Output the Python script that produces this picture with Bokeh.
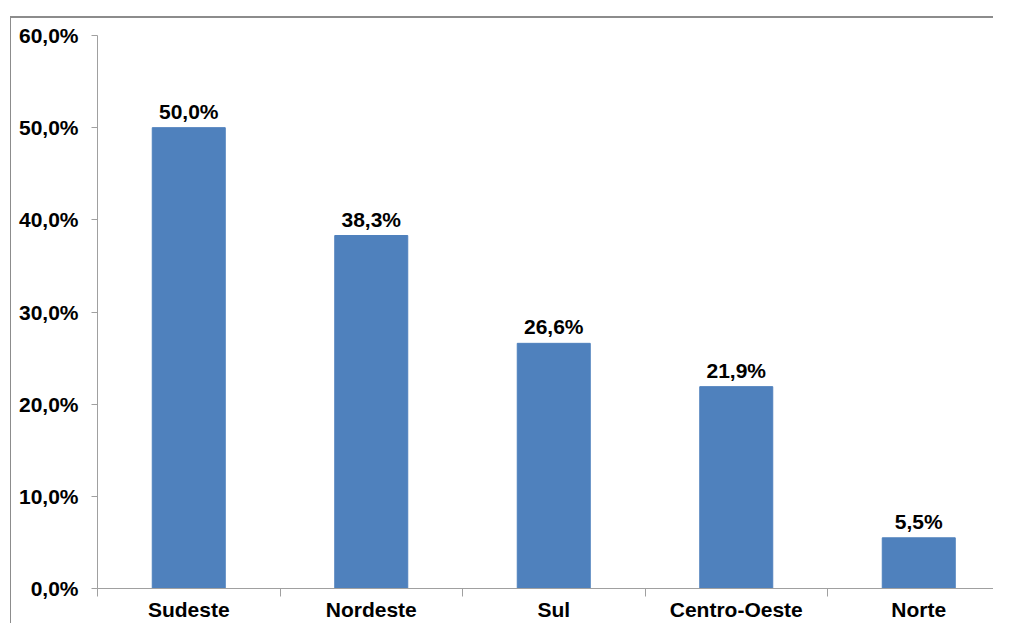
from bokeh.plotting import figure
from bokeh.models import Range1d, FixedTicker, ColumnDataSource
from bokeh.core.properties import value
from bokeh.embed import file_html
from bokeh.resources import INLINE

categories = ["Sudeste", "Nordeste", "Sul", "Centro-Oeste", "Norte"]
values = [50.0, 38.3, 26.6, 21.9, 5.5]
y_ticks = [0, 10, 20, 30, 40, 50, 60]

def pct(v):
    return f"{v:.1f}".replace(".", ",") + "%"

FONT = "Liberation Sans"
FS = "21px"

xs = [i + 0.5 for i in range(len(categories))]
src = ColumnDataSource(dict(x=xs, top=values, cat=categories,
                            label=[pct(v) for v in values]))

W, H = 993, 623
LEFT, TOP, BOTTOM = 97, 35, 29

p = figure(width=W, height=H, output_backend="svg", toolbar_location=None,
           x_range=Range1d(0, (W - LEFT) / 182.5), y_range=Range1d(0, 60),
           min_border_left=LEFT, min_border_right=0, min_border_top=TOP,
           min_border_bottom=BOTTOM, outline_line_color=None,
           background_fill_color="white", border_fill_color=None)

# outer chart-area border (top and left edges visible), drawn by CSS behind the canvas
p.styles = {
    "background": ("linear-gradient(#8c8c8c, #8c8c8c) 10px 16px / 100% 2px no-repeat, "
                   "linear-gradient(#8c8c8c, #8c8c8c) 10px 16px / 1px 100% no-repeat, "
                   "white"),
}

p.vbar(x="x", top="top", width=0.4, bottom=0, source=src,
       fill_color="#4F81BD", line_color="#4F81BD")
p.text(x="x", y="top", text="label", source=src, text_align="center",
       text_baseline="bottom", y_offset=-5, text_font=value(FONT),
       text_font_size=FS, text_font_style="bold", text_color="#000000")

p.xgrid.visible = False
p.ygrid.visible = False

# y axis
ya = p.yaxis[0]
ya.ticker = FixedTicker(ticks=y_ticks, minor_ticks=[])
ya.major_label_overrides = {t: pct(t) for t in y_ticks}
ya.axis_line_color = "#a0a0a0"
ya.major_tick_line_color = "#a0a0a0"
ya.major_tick_out = 6
ya.major_tick_in = 0
ya.minor_tick_out = 0
ya.minor_tick_in = 0
ya.major_label_standoff = 13
ya.major_label_text_font = FONT
ya.major_label_text_font_size = FS
ya.major_label_text_font_style = "bold"
ya.major_label_text_color = "#000000"

# x axis
xa = p.xaxis[0]
xa.ticker = FixedTicker(ticks=xs, minor_ticks=list(range(len(categories) + 1)))
xa.major_label_overrides = {x: c for x, c in zip(xs, categories)}
xa.axis_line_color = "#a0a0a0"
xa.major_tick_out = 0
xa.major_tick_in = 0
xa.minor_tick_out = 8
xa.minor_tick_in = 0
xa.minor_tick_line_color = "#a0a0a0"
xa.major_label_standoff = 1
xa.major_label_text_font = FONT
xa.major_label_text_font_size = FS
xa.major_label_text_font_style = "bold"
xa.major_label_text_color = "#000000"

open("out.html", "w").write(file_html(p, INLINE))
